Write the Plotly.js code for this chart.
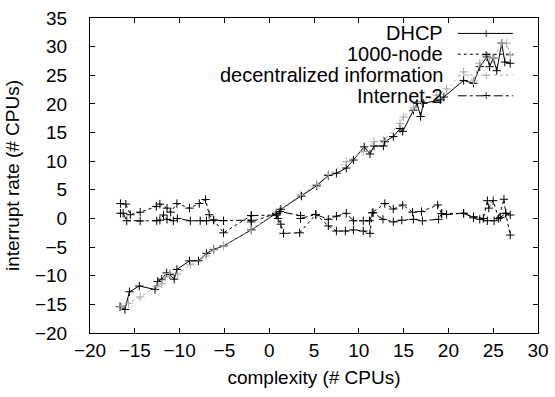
<!DOCTYPE html>
<html><head><meta charset="utf-8">
<script src="https://cdn.plot.ly/plotly-3.0.1.min.js"></script>
<style>html,body{margin:0;padding:0;background:#fff}#c{width:555px;height:397px}</style>
</head><body><div id="c"></div>
<script>
const seriesNames = ["DHCP", "1000-node", "decentralized information", "Internet-2"];

const dhcpX = [-16.65,-16.1,-15.6,-14.5,-12.75,-12.45,-12.0,-11.45,-11.1,-10.6,-10.3,-8.9,-7.9,-7.0,-6.2,-5.1,-2.0,0.8,1.3,3.6,5.3,6.6,7.5,8.6,9.4,10.6,11.25,11.7,12.75,12.9,13.85,14.6,14.9,16.1,16.5,16.9,17.2,19.1,19.5,21.7,22.8,23.5,24.3,24.6,25.0,25.4,25.95,26.3,26.9];
const dhcpY = [-15.4,-15.9,-12.8,-11.8,-12.4,-11.0,-10.6,-9.5,-9.8,-10.6,-8.9,-7.4,-7.4,-6.1,-5.4,-4.8,-2.0,0.9,1.6,3.9,5.7,7.5,7.9,8.8,10.2,12.5,11.25,12.65,12.65,13.4,14.3,15.7,15.2,18.9,20.1,17.8,20.1,20.7,21.2,24.1,23.6,26.5,28.2,26.5,28.0,25.8,30.6,27.3,27.1];

const nodeX = [-16.6,-16.0,-15.5,-14.4,-12.6,-12.2,-11.4,-11.0,-10.3,-8.9,-7.8,-7.1,-6.7,-6.2,-5.1,-2.0,-2.0,0.8,1.0,1.3,1.6,3.4,5.2,6.6,7.5,8.5,9.4,10.5,11.25,11.5,12.9,13.85,14.9,16.0,17.0,18.8,19.25,21.7,22.8,23.9,24.35,24.5,25.0,25.6,26.2,26.4,26.9];
const nodeY = [2.6,2.5,0.65,1.1,2.1,2.5,1.8,1.1,2.6,1.8,2.6,3.3,0.65,-0.25,-2.5,0.5,-0.6,0.9,0.0,-1.0,-2.6,-2.5,0.7,-1.3,-2.2,-2.2,-2.0,-2.2,-2.6,1.0,2.6,1.65,2.35,1.1,1.2,2.35,0.85,0.9,0.3,0.0,3.1,1.8,3.1,0.0,3.35,0.9,-2.9];

const decX = [-16.5,-15.7,-14.4,-12.55,-12.0,-11.6,-11.1,-10.25,-8.8,-7.05,-6.2,-5.1,-2.0,0.8,3.5,5.3,6.6,8.6,10.5,11.7,12.75,14.6,15.0,16.1,17.0,18.7,19.8,21.7,22.8,23.5,24.2,24.6,25.0,25.95,26.5,26.9];
const decY = [-15.4,-14.8,-13.7,-11.9,-11.4,-10.2,-9.6,-9.7,-8.1,-6.55,-5.5,-4.8,-2.1,1.1,4.1,5.9,7.7,9.9,11.7,13.4,13.6,16.6,17.7,19.3,20.4,21.55,22.6,25.6,24.0,27.1,28.5,28.0,28.0,30.6,30.6,28.5];

const i2X = [-16.6,-16.3,-15.9,-14.4,-12.55,-12.2,-11.8,-11.4,-10.7,-10.25,-8.8,-7.7,-7.0,-6.2,-5.1,-2.0,-2.0,0.8,1.2,3.5,3.5,5.2,6.6,7.5,8.6,9.4,10.5,11.2,11.6,12.7,13.85,14.8,16.1,17.1,18.9,19.25,19.8,21.7,22.8,23.5,24.35,25.1,25.8,26.4,26.9];
const i2Y = [0.9,0.9,-0.4,-0.45,-0.4,-0.3,0.6,-0.15,-0.4,0.0,-0.4,-0.4,-0.4,-0.3,-0.4,-0.3,0.5,0.6,1.2,0.5,0.0,0.7,-0.15,0.4,0.9,-0.4,-0.4,-0.4,1.0,-0.15,-0.6,-0.3,-0.15,-0.4,-0.15,0.85,0.7,0.9,0.1,-0.15,-0.4,-0.4,0.2,0.9,0.6];

const xTicks = [-20,-15,-10,-5,0,5,10,15,20,25,30];
const yTicks = [-20,-15,-10,-5,0,5,10,15,20,25,30,35];

const styles = [
  {color:'#000000', dash:'solid'},
  {color:'#000000', dash:'dot'},
  {color:'#a8a8a8', dash:'dot'},
  {color:'#000000', dash:'dashdot'}
];
const xs = [dhcpX, nodeX, decX, i2X];
const ys = [dhcpY, nodeY, decY, i2Y];

const traces = xs.map((x,i)=>({
  type:'scatter', mode:'lines+markers', x:x, y:ys[i], name:seriesNames[i],
  line:{color:styles[i].color, width:1, dash:styles[i].dash},
  marker:{symbol:'cross-thin', size:6, line:{color:styles[i].color, width:1}, color:styles[i].color},
  showlegend:false
}));

const FONT = 'Liberation Sans, Arial, sans-serif';
const legendY = [0.951, 0.885, 0.819, 0.753];
const shapes = [];
const annotations = [];
seriesNames.forEach((n,i)=>{
  annotations.push({xref:'paper', yref:'paper', x:0.793, y:legendY[i], xanchor:'right', yanchor:'middle',
    text:n, showarrow:false, font:{family:FONT, size:20, color:'#000'}});
  shapes.push({type:'line', xref:'paper', yref:'paper', x0:0.821, x1:0.944, y0:legendY[i], y1:legendY[i],
    line:{color:styles[i].color, width:1, dash:styles[i].dash}});
  annotations.push({xref:'paper', yref:'paper', x:0.884, y:legendY[i], xanchor:'center', yanchor:'middle',
    text:'+', showarrow:false, font:{family:'DejaVu Sans', size:10, color:styles[i].color}});
});

const layout = {
  width:555, height:397,
  margin:{l:90, r:17, t:18, b:64},
  paper_bgcolor:'#fff', plot_bgcolor:'#fff',
  font:{family:FONT, size:19, color:'#000'},
  showlegend:false,
  xaxis:{range:[-20,30], tickvals:xTicks, ticks:'inside', ticklen:5, tickcolor:'#000',
    tickfont:{family:FONT, size:19},
    showline:true, linecolor:'#000', linewidth:1, mirror:'ticks', showgrid:false, zeroline:false,
    title:{text:'complexity (# CPUs)', font:{family:FONT, size:19}, standoff:10}},
  yaxis:{range:[-20,35], tickvals:yTicks, ticks:'inside', ticklen:5, tickcolor:'#000',
    tickfont:{family:FONT, size:19},
    showline:true, linecolor:'#000', linewidth:1, mirror:'ticks', showgrid:false, zeroline:false,
    ticklabelstandoff:18,
    title:{text:'interrupt rate (# CPUs)', font:{family:FONT, size:19}, standoff:10}},
  shapes:shapes, annotations:annotations
};
Plotly.newPlot('c', traces, layout, {staticPlot:true, displayModeBar:false});
</script></body></html>
